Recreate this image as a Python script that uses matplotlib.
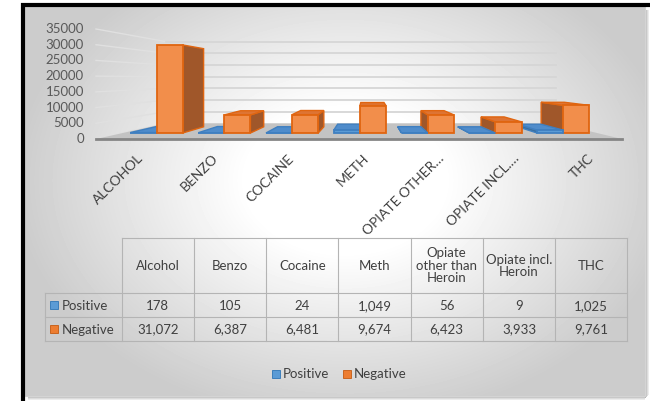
import matplotlib.pyplot as plt
import numpy as np

plt.rcParams['font.family'] = ['Lato', 'DejaVu Sans']

drugs = ["ALCOHOL", "BENZO", "COCAINE", "METH", "OPIATE OTHER\u2026", "OPIATE INCL.\u2026", "THC"]
table_heads = ["Alcohol", "Benzo", "Cocaine", "Meth", "Opiate\nother than\nHeroin", "Opiate incl.\nHeroin", "THC"]
positive = [178, 105, 24, 1049, 56, 9, 1025]
negative = [31072, 6387, 6481, 9674, 6423, 3933, 9761]
y_ticks = [0, 5000, 10000, 15000, 20000, 25000, 30000, 35000]

W, H = 650, 401
fig = plt.figure(figsize=(W / 100, H / 100), dpi=100)

# background layer in pixel units: frame, shading, table, legend
bg = fig.add_axes([0, 0, 1, 1])
bg.set_xlim(0, W)
bg.set_ylim(H, 0)
bg.axis("off")

yy, xx = np.mgrid[0:H, 0:W]
r = np.sqrt(((xx - 345) / 330.0) ** 2 + ((yy - 180) / 240.0) ** 2)
shade = 1 - 0.2 * np.clip((r - 0.3) / 0.7, 0, 1) ** 1.0
img = np.ones((H, W))
img[6:396, 24:645] = shade[6:396, 24:645]
bg.imshow(img, cmap="gray", vmin=0, vmax=1, extent=(0, W, H, 0), aspect="auto", zorder=0)
# drop shadow on the right / bottom
for k, c in enumerate(["#b5b5b5", "#c8c8c8", "#dcdcdc", "#ececec"]):
    bg.add_patch(plt.Rectangle((645 + k, 10), 1, 388 - k, color=c, lw=0, zorder=1))
    bg.add_patch(plt.Rectangle((28, 396 + k), 617, 1, color=c, lw=0, zorder=1))
bg.add_patch(plt.Rectangle((24, 6), 621, 390, fill=False, ec="#d4d4d4", lw=0.8, zorder=2))
bg.plot([22.5, 22.5], [3, 401], color="black", lw=3, zorder=3, solid_capstyle="butt")
bg.plot([21, 650], [4.5, 4.5], color="black", lw=3, zorder=3, solid_capstyle="butt")

# data table
col_x = np.linspace(121.7, 627.3, len(drugs) + 1)
row_y = [238.3, 293.3, 317.3, 340.7]
grid_c = "#b4b4b4"
bg.plot([col_x[0], col_x[-1]], [row_y[0]] * 2, color=grid_c, lw=0.8)
for yv in row_y[1:]:
    bg.plot([45, col_x[-1]], [yv] * 2, color=grid_c, lw=0.8)
bg.plot([45, 45], [row_y[1], row_y[3]], color=grid_c, lw=0.8)
for xv in col_x:
    bg.plot([xv, xv], [row_y[0], row_y[3]], color=grid_c, lw=0.8)
txt = dict(color="#404040", fontsize=9.5, ha="center", va="center")
for i, head in enumerate(table_heads):
    cx = (col_x[i] + col_x[i + 1]) / 2
    bg.text(cx, (row_y[0] + row_y[1]) / 2, head, linespacing=1.05, **txt)
    bg.text(cx, (row_y[1] + row_y[2]) / 2 + 0.5, f"{positive[i]:,}", **txt)
    bg.text(cx, (row_y[2] + row_y[3]) / 2 + 0.5, f"{negative[i]:,}", **txt)

blue, orange = "#5b9bd5", "#ed7d31"
for yv0, yv1, name, c, ec in [(row_y[1], row_y[2], "Positive", blue, "#2e75b6"),
                              (row_y[2], row_y[3], "Negative", orange, "#c55a11")]:
    ym = (yv0 + yv1) / 2
    bg.add_patch(plt.Rectangle((50, ym - 4.5), 8, 8, fc=c, ec=ec, lw=0.6))
    bg.text(62, ym + 0.5, name, color="#404040", fontsize=9.5, va="center")

# legend
for x0, name, c, ec in [(272, "Positive", blue, "#2e75b6"), (343, "Negative", orange, "#c55a11")]:
    bg.add_patch(plt.Rectangle((x0, 369.5), 8, 8, fc=c, ec=ec, lw=0.6))
    bg.text(x0 + 11, 374, name, color="#404040", fontsize=9.5, va="center")

# 3-D column plot, front plane in data units
ax = fig.add_axes([96 / W, 1 - 139 / H, 526 / W, 110 / H])
ax.set_xlim(0, 7)
ax.set_ylim(0, 35000)
ax.axis("off")

VX, VY = 3.62, 19400.0   # vanishing point
D_FRONT, D_BACK, D_WALL = 0.098, 0.2, 0.258


def proj(x, y, d):
    return x + d * (VX - x), y + d * (VY - y)


def poly(pts, fc, ec, z):
    xs, ys = zip(*[proj(*p) for p in pts])
    ax.fill(xs, ys, fc=fc, ec=ec, lw=1.0, zorder=z, clip_on=False)


# floor
poly([(0, 0, 0), (7, 0, 0), (7, 0, D_WALL), (0, 0, D_WALL)], "#c3c3c3", "none", 1)
ax.plot([0, 7], [0, 0], color="#858585", lw=2, zorder=2, clip_on=False)

# gridlines on left and back walls
for v in y_ticks:
    lx, ly = proj(0, v, 0)
    bx0, by0 = proj(0, v, D_WALL)
    bx1, by1 = proj(7, v, D_WALL)
    ax.plot([lx, bx0], [ly, by0], color="#e0e0e0", lw=1.0, zorder=0.5, clip_on=False)
    if v > 0:
        ax.plot([bx0, bx1], [by0, by1], color="#d6d6d6", lw=1.3, zorder=0.5, clip_on=False)
    ax.text(-0.16, v, str(v), ha="right", va="center", fontsize=9.5, color="#595959", clip_on=False)

styles = {
    "pos": dict(front="#5b9bd5", top="#4f8ccb", side="#3a6f9f", edge="#3f7fc0"),
    "neg": dict(front="#f28e4b", top="#de7433", side="#a0572a", edge="#e06510"),
}

boxes = []
for i in range(len(drugs)):
    boxes.append((i + 0.115, i + 0.5, positive[i], "pos"))
    boxes.append((i + 0.5, i + 0.885, negative[i], "neg"))
boxes.sort(key=lambda b: -abs((b[0] + b[1]) / 2 - VX))

for z, (x0, x1, h, key) in enumerate(boxes):
    s = styles[key]
    zz = 3 + z * 0.1
    if x1 < VX:
        poly([(x1, 0, D_FRONT), (x1, 0, D_BACK), (x1, h, D_BACK), (x1, h, D_FRONT)], s["side"], s["edge"], zz)
    if x0 > VX:
        poly([(x0, 0, D_FRONT), (x0, 0, D_BACK), (x0, h, D_BACK), (x0, h, D_FRONT)], s["side"], s["edge"], zz)
    if h < VY:
        poly([(x0, h, D_FRONT), (x1, h, D_FRONT), (x1, h, D_BACK), (x0, h, D_BACK)], s["top"], s["edge"], zz)
    fx0, fy0 = proj(x0, 0, D_FRONT)
    fx1, fy1 = proj(x1, h, D_FRONT)
    ax.bar(fx0, fy1 - fy0, width=fx1 - fx0, bottom=fy0, align="edge", color=s["front"],
           edgecolor=s["edge"], lw=1.3, zorder=zz + 0.05, clip_on=False)

# category labels
for i, name in enumerate(drugs):
    ax.text(i + 0.6, -5600, name, rotation=45, rotation_mode="anchor", ha="right", va="center",
            fontsize=10, color="#404040", clip_on=False)

fig.savefig("out.png", dpi=100)
